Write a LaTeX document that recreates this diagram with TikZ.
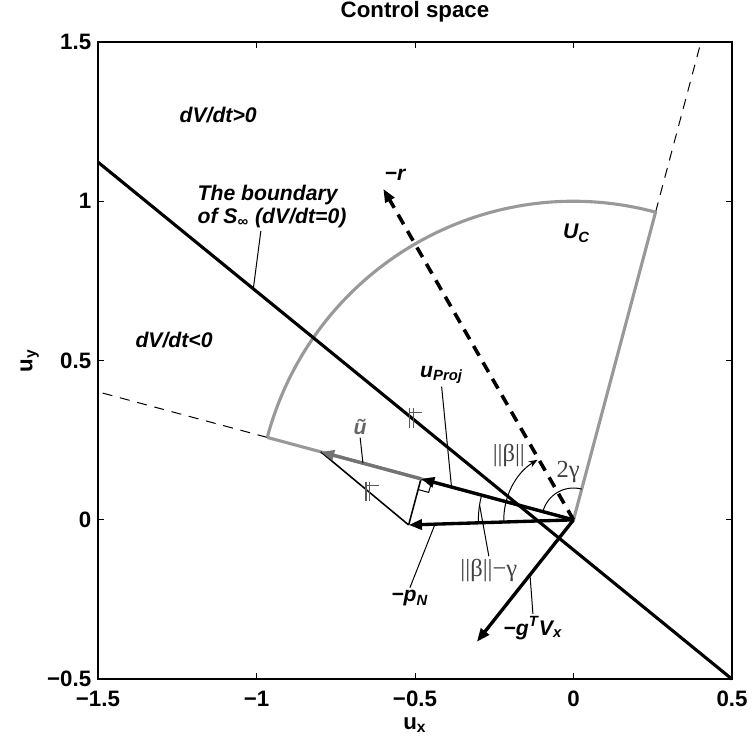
\documentclass[tikz,border=0pt]{standalone}
\usepackage{fontspec}
\setmainfont{Liberation Sans}
\newfontfamily\symb{Liberation Serif}
\usetikzlibrary{arrows.meta,calc}

\tikzset{
  vec/.style={line width=1.5pt,-{Triangle[length=6pt,width=4.5pt]}},
  lead/.style={line width=0.45pt},
  lab/.style={font=\fontsize{9.5}{10.5}\selectfont\bfseries\itshape, inner sep=1pt},
  ang/.style={font=\fontsize{11}{12}\symb, text=black!75, inner sep=1pt},
  tick/.style={font=\fontsize{10}{12}\selectfont\bfseries, inner sep=0pt},
  cone/.style={black!40, line width=1.4pt},
  guide/.style={line width=0.45pt, dash pattern=on 4.5pt off 3.5pt},
  parmark/.style={black!65, line width=0.5pt}
}

\begin{document}
\begin{tikzpicture}[x=5cm,y=5.024cm]
\useasboundingbox (-1.809,-0.707) rectangle (0.563,1.632);
% axes
\draw[line width=0.6pt] (-1.5,-0.5) rectangle (0.5,1.5);
\foreach \x in {-1,-0.5,0} {
  \draw[line width=0.4pt] (\x,-0.5) -- ++(0,0.02);
  \draw[line width=0.4pt] (\x,1.5) -- ++(0,-0.02);
}
\foreach \y in {0,0.5,1} {
  \draw[line width=0.4pt] (-1.5,\y) -- ++(0.02,0);
  \draw[line width=0.4pt] (0.5,\y) -- ++(-0.02,0);
}
\foreach \x/\t [count=\i] in {-1.5/−1.5,-1/−1,-0.5/−0.5,0/0,0.5/0.5}
  \node[tick] (xt\i) at (\x,-0.563) {\t};
\foreach \y/\t [count=\i] in {-0.5/−0.5,0/0,0.5/0.5,1/1,1.5/1.5}
  \node[tick,anchor=east] (yt\i) at (-1.52,\y) {\t};
\node[tick] (title) at (-0.5,1.594) {Control space};
\node[tick] (ux) at (-0.5,-0.645) {u\textsubscript{x}};
\node[tick,rotate=90] (uy) at (-1.715,0.5) {u\textsubscript{y}};

% points
\coordinate (O) at (0,0);
\coordinate (bA) at (-1.5,1.123);
\coordinate (bB) at (0.5,-0.5);
\coordinate (cR) at (75:1);
\coordinate (cL) at (165:1);
\coordinate (r) at (120:1.2);
\coordinate (pN) at (-0.52,-0.016);
\coordinate (uP) at (165:0.498);
\coordinate (ut) at (165:0.825);
\coordinate (gV) at (-0.305,-0.383);

% cone U_C and its edges
\draw[guide] (cR) -- (0.402,1.5);
\draw[guide] (cL) -- (-1.5,0.402);
\draw[cone,line join=round] (cL) -- (O) -- (cR) arc[start angle=75,end angle=165,radius=1];

% boundary dV/dt=0
\draw[line width=1.4pt] (bA) -- (bB);

% projection construction
\draw[line width=0.7pt] (pN) -- (uP);
\draw[line width=0.7pt] (pN) -- (ut);
\draw[line width=0.45pt] ($(uP)+(-0.0096,-0.0336)$) -- ++(0.0338,-0.0091) -- ++(0.0096,0.0336);
\coordinate (m1) at ($(bA)!0.495!(bB)$);
\coordinate (m2) at ($(pN)!0.46!(ut)$);
\foreach \m in {m1,m2} {
  \draw[parmark] ([shift={(-0.007,-0.03)}]\m) -- ++(0,0.06);
  \draw[parmark] ([shift={(0.005,-0.03)}]\m) -- ++(0,0.06);
  \draw[parmark] ([shift={(-0.007,0.018)}]\m) -- ++(0.04,0);
}

% vectors
\draw[vec,black!55] (uP) -- (ut);
\draw[vec] (O) -- (pN);
\draw[vec] (O) -- (uP);
\draw[vec] (O) -- (gV);
\draw[line width=1.6pt,dash pattern=on 5pt off 3.5pt,-{Triangle[length=6pt,width=4.5pt]}] (O) -- (r);

% angles
\draw[lead] (75:0.1) arc[start angle=75,end angle=165,radius=0.1];
\draw[lead,-{Stealth[length=4pt,width=3pt]}] (181.7:0.22) arc[start angle=181.7,end angle=121,radius=0.22];
\draw[lead] (165:0.3) arc[start angle=165,end angle=181.7,radius=0.3];
\node[ang] (twog) at (-0.017,0.15) {2γ};
\node[ang] (beta) at (-0.204,0.203) {||β||};
\node[ang] (bmg) at (-0.267,-0.158) {||β||−γ};
\draw[lead] (bmg.north) -- (171:0.3);

% labels
\node[lab] (pos) at (-1.121,1.27) {dV/dt>0};
\node[lab] (neg) at (-1.26,0.564) {dV/dt<0};
\node[lab,align=left,anchor=west] (bnd) at (-1.194,0.983) {The boundary\\of S\textsubscript{∞} (dV/dt=0)};
\draw[lead] ([xshift=-5pt]bnd.south) -- ($(bA)!0.245!(bB)$);
\node[lab] (uc) at (0.01,0.9) {U\textsubscript{C}};
\node[lab] (rl) at (-0.563,1.082) {−r};
\node[lab] (upl) at (-0.416,0.455) {u\textsubscript{Proj}};
\draw[lead] (upl.south) -- ($(O)!0.8!(uP)$);
\node[lab,text=black!60] (utl) at (-0.673,0.291) {ũ};
\draw[lead] (utl.south) -- ($(uP)!0.58!(ut)$);
\node[lab] (pnl) at (-0.516,-0.246) {−p\textsubscript{N}};
\draw[lead] (pnl.north) -- ($(O)!0.84!(pN)$);
\node[lab] (gvl) at (-0.128,-0.34) {−g\textsuperscript{T}V\textsubscript{x}};
\draw[lead] (gvl.north) -- ($(O)!0.45!(gV)$);
\end{tikzpicture}
\end{document}
